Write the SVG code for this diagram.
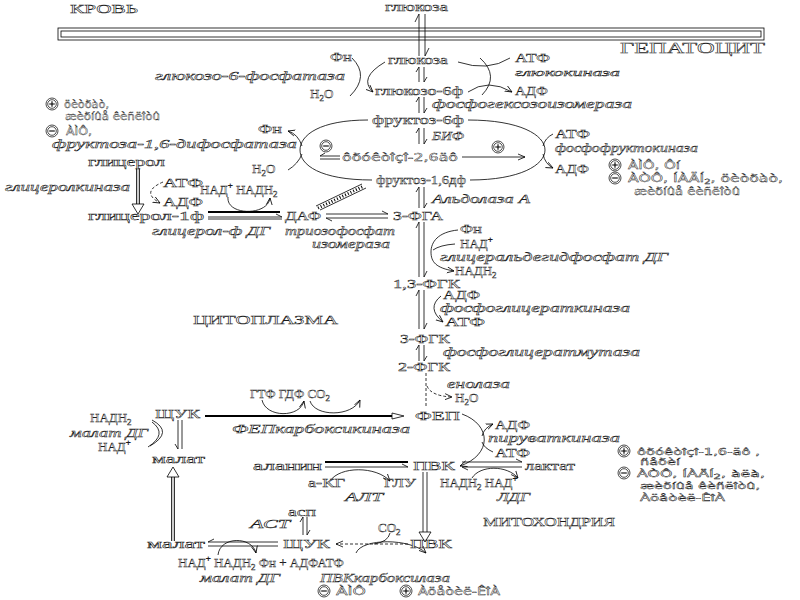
<svg xmlns="http://www.w3.org/2000/svg" width="800" height="600" viewBox="0 0 800 600">
<style>
text{font-family:"Liberation Serif","DejaVu Serif",serif;fill:#fff;stroke:#1a1a1a;stroke-width:0.45px;font-size:13px}
.i{font-style:italic;font-size:12.5px}
.g{font-family:"DejaVu Sans","Liberation Sans",sans-serif;font-size:11px;stroke-width:0.4px}
.sm{font-size:9.5px}
.b{font-size:14px}
.s{font-size:9px}
.ln{fill:none;stroke:#000;stroke-width:0.8}
.dk{fill:none;stroke:#000;stroke-width:3.6}
.wt{fill:none;stroke:#fff;stroke-width:1.6}
.th{fill:none;stroke:#000;stroke-width:2.2}
.ds{fill:none;stroke:#000;stroke-width:0.8;stroke-dasharray:3 2}
.ah{fill:#fff;stroke:#000;stroke-width:0.8}
</style>
<defs>
<marker id="a" markerWidth="8" markerHeight="8" refX="7" refY="4" orient="auto" markerUnits="userSpaceOnUse"><path d="M0,1 L7,4 L0,7" fill="none" stroke="#000" stroke-width="0.8"/></marker>
<g id="plus" fill="#fff" stroke="#000" stroke-width="0.7"><circle r="6"/><circle r="4.3"/><path d="M-2.8,0H2.8M0,-2.8V2.8" fill="none" stroke-width="1.1"/></g>
<g id="minus" fill="#fff" stroke="#000" stroke-width="0.7"><circle r="6"/><circle r="4.3"/><path d="M-2.8,0H2.8" fill="none" stroke-width="1.1"/></g>
</defs>
<rect width="800" height="600" fill="#fff"/>

<g id="membrane">
<rect x="58" y="28" width="706" height="12" class="ln"/>
<rect x="61" y="31" width="700" height="6" class="ln"/>
</g>

<g id="connectors">
<path class="ln" d="M419,56V14l-4,8M425,14V56l4,-8"/>
<path class="ln" d="M419,82V67l-3,5M424,67V82l3,-5"/>
<path class="ln" d="M352,58Q370,76 350,96M385,62Q358,78 373,92" marker-end="url(#a)"/>
<path class="ln" d="M458,62Q488,72 510,58M468,92Q488,78 512,92" marker-end="url(#a)"/>
<path class="ln" d="M480,58Q500,76 482,95"/>
<path class="ln" d="M419,113V97l-3,5M424,97V113l3,-5"/>
<path class="ln" d="M419,144V128l-3,5M424,128V144l3,-5"/>
<path class="ln" d="M368,120C320,120 300,135 300,150C300,165 320,180 372,180"/>
<path class="ln" d="M302,146Q298,134 288,131" marker-end="url(#a)"/>
<path class="ln" d="M288,170Q298,164 302,154"/>
<path class="ln" d="M468,120C520,120 545,135 545,150C545,165 520,180 470,180" />
<path class="ln" d="M553,134Q545,138 543,146"/>
<path class="ln" d="M543,154Q545,164 553,168" marker-end="url(#a)"/>
<path class="ln" d="M340,156H320l5,-3M340,159H320"/>
<path class="ln" d="M462,157H525" marker-end="url(#a)"/>
<path class="ln" d="M419,208V187l-3,5M424,187V208l3,-5"/>
<path class="ln" d="M316,206L362,184M320,210L366,188"/>
<path fill="none" stroke="#000" stroke-width="3" stroke-dasharray="1 2" d="M318,208L364,186"/>
<path class="dk" d="M138,168V204"/><path class="wt" d="M138,168V205"/>
<path class="ah" d="M132,204L138,214L144,204Z"/>
<path class="ds" d="M163,182Q140,192 160,203" marker-end="url(#a)"/>
<path class="th" d="M208,212H280"/><path class="ln" d="M208,217H282l-6,-3"/><path class="ln" d="M208,219H282"/>
<path class="ln" d="M228,197C226,216 268,216 270,198" marker-end="url(#a)"/>
<path class="ln" d="M326,214H388l-6,-3M388,218H326l6,3"/>
<path class="ln" d="M419,277V222l-3,6M424,222V277l3,-6"/>
<path class="ln" d="M458,230C438,232 431,242 431,252C431,262 436,268 454,271" marker-end="url(#a)"/>
<path class="ln" d="M455,244Q440,245 433,250"/>
<path class="ln" d="M419,329V290l-3,6M424,290V329l3,-6"/>
<path class="ln" d="M441,296Q426,308 443,322" marker-end="url(#a)"/>
<path class="ln" d="M419,361V345l-3,5M424,345V361l3,-5"/>
<path class="ds" d="M426,373V408"/>
<path class="ds" d="M427,386Q431,396 452,397" marker-end="url(#a)"/>
<path class="th" d="M205,416H392"/><path class="ln" d="M392,413L404,416L392,419Z"/>
<path class="ln" d="M262,400C266,418 300,418 304,401" marker-end="url(#a)"/>
<path class="ln" d="M310,401C315,417 352,417 360,400" marker-end="url(#a)"/>
<path class="ln" d="M462,414C492,425 492,455 460,466" marker-end="url(#a)"/>
<path class="ln" d="M482,436Q484,428 493,424" marker-end="url(#a)"/>
<path class="ln" d="M493,452Q484,448 482,442"/>
<path class="ln" d="M178,420V449l-3,-5M182,420V449"/>
<path class="ln" d="M152,420Q174,432 150,446M152,422Q168,434 148,447" />
<path class="dk" d="M173,541V476"/><path class="wt" d="M173,541V474"/>
<path class="ah" d="M167,477L173,467L179,477Z"/>
<path class="th" d="M325,462H408"/><path class="ln" d="M325,467H408l-6,-3"/>
<path class="ln" d="M330,481C340,466 376,466 390,481" marker-end="url(#a)"/>
<path class="ln" d="M462,462H522l-6,-3M522,467H462l6,3"/>
<path class="ln" d="M472,478C480,465 507,465 518,478" marker-end="url(#a)"/>
<path class="ln" d="M423,472V532M427,472V532"/>
<path class="ah" d="M419,532L425,542L431,532Z"/>
<path class="ln" d="M303,535V517l-3,5M307,517V535l3,-5"/>
<path class="ln" d="M278,542H208l6,-3M278,546H208"/>
<path class="ln" d="M218,555C220,536 252,536 256,553" marker-end="url(#a)"/>
<path class="ds" d="M408,544H336" marker-end="url(#a)"/>
<path class="ln" d="M390,533Q388,542 374,544"/>
<path class="ln" d="M356,553C362,538 410,538 426,553" marker-end="url(#a)"/>
</g>

<g id="texts">
<text x="70" y="13" textLength="68" lengthAdjust="spacingAndGlyphs">КРОВЬ</text>
<text x="385" y="11" textLength="63" lengthAdjust="spacingAndGlyphs">глюкоза</text>
<text class="b" x="620" y="53" textLength="145" lengthAdjust="spacingAndGlyphs">ГЕПАТОЦИТ</text>
</g>

<g id="n-glucose-6f">
<text x="388" y="64" textLength="60" lengthAdjust="spacingAndGlyphs">глюкоза</text>
<text x="330" y="61" textLength="22" lengthAdjust="spacingAndGlyphs">Фн</text>
<text class="i" x="155" y="80" textLength="190" lengthAdjust="spacingAndGlyphs">глюкозо-6-фосфатаза</text>
<text x="310" y="98">H<tspan class="s" dy="3">2</tspan><tspan dy="-3">O</tspan></text>
<text x="375" y="95" textLength="88" lengthAdjust="spacingAndGlyphs">глюкозо-6ф</text>
<text x="515" y="62" textLength="35" lengthAdjust="spacingAndGlyphs">АТФ</text>
<text class="i" x="515" y="76" textLength="105" lengthAdjust="spacingAndGlyphs" style="font-size:11px">глюкокиназа</text>
<text x="515" y="95" textLength="33" lengthAdjust="spacingAndGlyphs">АДФ</text>
<text class="i" x="432" y="108" textLength="200" lengthAdjust="spacingAndGlyphs">фосфогексозоизомераза</text>
</g>

<g id="n-fbpase-reg">
<use href="#plus" x="52" y="104"/>
<text class="g" x="64" y="108" textLength="45" lengthAdjust="spacingAndGlyphs">öèòðàò,</text>
<text class="g" x="65" y="120" textLength="95" lengthAdjust="spacingAndGlyphs">æèðíûå êèñëîòû</text>
<use href="#minus" x="52" y="131"/>
<text class="g" x="66" y="135" textLength="26" lengthAdjust="spacingAndGlyphs">ÀÌÔ,</text>
</g>

<g id="n-fructose">
<text x="372" y="124" textLength="92" lengthAdjust="spacingAndGlyphs">фруктоз-6ф</text>
<text class="i" x="52" y="148" textLength="245" lengthAdjust="spacingAndGlyphs">фруктоза-1,6-дифосфатаза</text>
<text x="258" y="133" textLength="24" lengthAdjust="spacingAndGlyphs">Фн</text>
<text x="252" y="173">H<tspan class="s" dy="3">2</tspan><tspan dy="-3">O</tspan></text>
<text class="i" x="432" y="140" textLength="32" lengthAdjust="spacingAndGlyphs">БИФ</text>
<use href="#minus" x="326" y="146"/>
<text class="g" x="342" y="161" textLength="116" lengthAdjust="spacingAndGlyphs">ôðóêòîçî-2,6äô</text>
<use href="#plus" x="498" y="147"/>
<text x="376" y="184" textLength="90" lengthAdjust="spacingAndGlyphs">фруктоз-1,6дф</text>
<text x="555" y="138" textLength="35" lengthAdjust="spacingAndGlyphs">АТФ</text>
<text class="i" x="555" y="152" textLength="143" lengthAdjust="spacingAndGlyphs">фосфофруктокиназа</text>
<text x="555" y="173" textLength="34" lengthAdjust="spacingAndGlyphs">АДФ</text>
<use href="#plus" x="615" y="165"/>
<text class="g" x="628" y="169" textLength="52" lengthAdjust="spacingAndGlyphs">ÀÌÔ, Ôí</text>
<use href="#minus" x="615" y="178"/>
<text class="g" x="628" y="182" textLength="155" lengthAdjust="spacingAndGlyphs">ÀÒÔ, ÍÀÄÍ<tspan class="s" dy="2" style="font-size:7px">2</tspan><tspan dy="-2">, öèòðàò,</tspan></text>
<text class="g" x="634" y="195" textLength="106" lengthAdjust="spacingAndGlyphs">æèðíûå êèñëîòû</text>
<text class="i" x="432" y="203" textLength="98" lengthAdjust="spacingAndGlyphs">Альдолаза А</text>
</g>

<g id="n-glycerol">
<text x="88" y="166" textLength="77" lengthAdjust="spacingAndGlyphs">глицерол</text>
<text class="i" x="5" y="191" textLength="125" lengthAdjust="spacingAndGlyphs">глицеролкиназа</text>
<text x="163" y="187" textLength="40" lengthAdjust="spacingAndGlyphs">АТФ</text>
<text x="163" y="206" textLength="40" lengthAdjust="spacingAndGlyphs">АДФ</text>
<text x="200" y="194">НАД<tspan class="s" dy="-6">+</tspan><tspan dy="6"> НАДН</tspan><tspan class="s" dy="3">2</tspan></text>
<text x="88" y="220" textLength="116" lengthAdjust="spacingAndGlyphs">глицерол-1ф</text>
<text x="285" y="220" textLength="36" lengthAdjust="spacingAndGlyphs">ДАФ</text>
<text x="393" y="220" textLength="50" lengthAdjust="spacingAndGlyphs">3-ФГА</text>
<text class="i" x="152" y="235" textLength="118" lengthAdjust="spacingAndGlyphs">глицерол-ф ДГ</text>
<text class="i" x="285" y="235" textLength="110" lengthAdjust="spacingAndGlyphs">триозофосфат</text>
<text class="i" x="312" y="248" textLength="78" lengthAdjust="spacingAndGlyphs">изомераза</text>
</g>

<g id="n-glycolysis">
<text x="460" y="233" textLength="22" lengthAdjust="spacingAndGlyphs">Фн</text>
<text x="460" y="248">НАД<tspan class="s" dy="-6">+</tspan></text>
<text class="i" x="440" y="261" textLength="228" lengthAdjust="spacingAndGlyphs">глицеральдегидфосфат ДГ</text>
<text x="455" y="275">НАДН<tspan class="s" dy="3">2</tspan></text>
<text x="393" y="288" textLength="67" lengthAdjust="spacingAndGlyphs">1,3-ФГК</text>
<text x="443" y="299" textLength="37" lengthAdjust="spacingAndGlyphs">АДФ</text>
<text class="i" x="440" y="312" textLength="190" lengthAdjust="spacingAndGlyphs">фосфоглицераткиназа</text>
<text x="445" y="326" textLength="40" lengthAdjust="spacingAndGlyphs">АТФ</text>
<text x="193" y="324" textLength="145" lengthAdjust="spacingAndGlyphs">ЦИТОПЛАЗМА</text>
<text x="400" y="343" textLength="50" lengthAdjust="spacingAndGlyphs">3-ФГК</text>
<text class="i" x="443" y="356" textLength="197" lengthAdjust="spacingAndGlyphs">фосфоглицератмутаза</text>
<text x="398" y="371" textLength="52" lengthAdjust="spacingAndGlyphs">2-ФГК</text>
<text class="i" x="447" y="388" textLength="63" lengthAdjust="spacingAndGlyphs">енолаза</text>
<text x="455" y="402">H<tspan class="s" dy="3">2</tspan><tspan dy="-3">O</tspan></text>
<text x="415" y="420" textLength="45" lengthAdjust="spacingAndGlyphs">ФЕП</text>
</g>

<g id="n-pep-ck">
<text x="250" y="398">ГТФ ГДФ CO<tspan class="s" dy="3">2</tspan></text>
<text x="155" y="418" textLength="45" lengthAdjust="spacingAndGlyphs">ЩУК</text>
<text class="i" x="232" y="433" textLength="178" lengthAdjust="spacingAndGlyphs">ФЕПкарбоксикиназа</text>
<text x="90" y="422">НАДН<tspan class="s" dy="3">2</tspan></text>
<text class="i" x="70" y="437" textLength="78" lengthAdjust="spacingAndGlyphs">малат ДГ</text>
<text x="98" y="451">НАД<tspan class="s" dy="-6">+</tspan></text>
<text x="152" y="463" textLength="53" lengthAdjust="spacingAndGlyphs">малат</text>
</g>

<g id="n-pvk">
<text x="253" y="470" textLength="69" lengthAdjust="spacingAndGlyphs">аланин</text>
<text x="413" y="470" textLength="42" lengthAdjust="spacingAndGlyphs">ПВК</text>
<text x="495" y="429" textLength="35" lengthAdjust="spacingAndGlyphs">АДФ</text>
<text class="i" x="488" y="442" textLength="132" lengthAdjust="spacingAndGlyphs">пируваткиназа</text>
<text x="495" y="457" textLength="35" lengthAdjust="spacingAndGlyphs">АТФ</text>
<text x="525" y="470" textLength="50" lengthAdjust="spacingAndGlyphs">лактат</text>
<text x="440" y="487">НАДН<tspan class="s" dy="3">2</tspan><tspan dy="-3"> НАД</tspan><tspan class="s" dy="-6">+</tspan></text>
<text class="i" x="497" y="501" textLength="33" lengthAdjust="spacingAndGlyphs">ЛДГ</text>
<use href="#plus" x="624" y="451"/>
<text class="g sm" x="637" y="455" textLength="123" lengthAdjust="spacingAndGlyphs">ôðóêòîçî-1,6-äô ,</text>
<text class="g sm" x="640" y="465" textLength="40" lengthAdjust="spacingAndGlyphs">ñåðèí</text>
<use href="#minus" x="624" y="473"/>
<text class="g sm" x="637" y="477" textLength="128" lengthAdjust="spacingAndGlyphs">ÀÒÔ, ÍÀÄÍ<tspan class="s" dy="2" style="font-size:7px">2</tspan><tspan dy="-2">, àëà,</tspan></text>
<text class="g sm" x="640" y="489" textLength="120" lengthAdjust="spacingAndGlyphs">æèðíûå êèñëîòû,</text>
<text class="g sm" x="640" y="501" textLength="85" lengthAdjust="spacingAndGlyphs">Àöåòèë-ÊîÀ</text>
<text x="308" y="487" textLength="37" lengthAdjust="spacingAndGlyphs">а-КГ</text>
<text x="384" y="487" textLength="32" lengthAdjust="spacingAndGlyphs">ГЛУ</text>
<text class="i" x="345" y="501" textLength="38" lengthAdjust="spacingAndGlyphs">АЛТ</text>
</g>

<g id="n-mito">
<text x="483" y="526" textLength="132" lengthAdjust="spacingAndGlyphs">МИТОХОНДРИЯ</text>
<text x="288" y="516" textLength="28" lengthAdjust="spacingAndGlyphs">асп</text>
<text class="i" x="250" y="528" textLength="40" lengthAdjust="spacingAndGlyphs">АСТ</text>
<text x="147" y="548" textLength="58" lengthAdjust="spacingAndGlyphs">малат</text>
<text x="283" y="548" textLength="47" lengthAdjust="spacingAndGlyphs">ЩУК</text>
<text x="378" y="532">CO<tspan class="s" dy="3">2</tspan></text>
<text x="410" y="548" textLength="42" lengthAdjust="spacingAndGlyphs">ПВК</text>
<text x="178" y="567">НАД<tspan class="s" dy="-6">+</tspan><tspan dy="6"> НАДН</tspan><tspan class="s" dy="3">2</tspan><tspan dy="-3"> Фн + АДФАТФ</tspan></text>
<text class="i" x="200" y="582" textLength="80" lengthAdjust="spacingAndGlyphs">малат ДГ</text>
<text class="i" x="320" y="582" textLength="130" lengthAdjust="spacingAndGlyphs">ПВКкарбоксилаза</text>
<use href="#minus" x="324" y="591"/>
<text class="g" x="336" y="595" textLength="30" lengthAdjust="spacingAndGlyphs">ÀÌÔ</text>
<use href="#plus" x="406" y="591"/>
<text class="g" x="418" y="595" textLength="82" lengthAdjust="spacingAndGlyphs">Àöåòèë-ÊîÀ</text>
</g>
</svg>
